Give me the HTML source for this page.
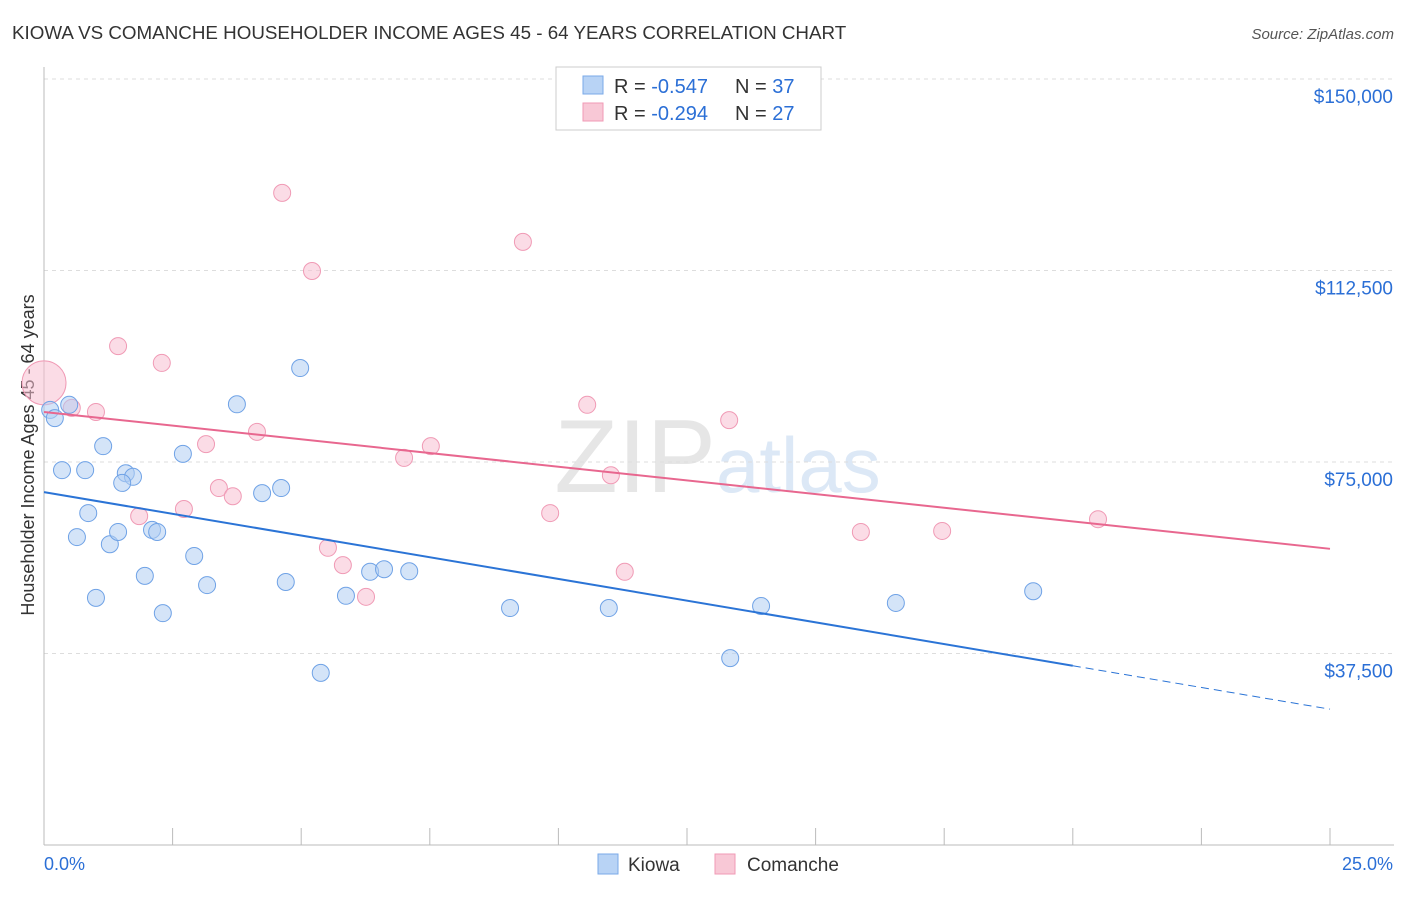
<!DOCTYPE html>
<html><head><meta charset="utf-8"><style>
body{margin:0;background:#fff;font-family:"Liberation Sans",sans-serif}
svg text{font-family:"Liberation Sans",sans-serif}
</style></head><body>
<svg id="chart" width="1406" height="892" xmlns="http://www.w3.org/2000/svg">
<text x="12" y="39" font-size="18.8" fill="#333">KIOWA VS COMANCHE HOUSEHOLDER INCOME AGES 45 - 64 YEARS CORRELATION CHART</text>
<text x="1394" y="39" font-size="15" fill="#555" text-anchor="end" font-style="italic">Source: ZipAtlas.com</text>
<text x="716" y="492" font-size="104" fill="#e6e6e6" text-anchor="end" font-family="Liberation Serif">ZIP</text>
<text x="716" y="492" font-size="78" fill="#dce8f6">atlas</text>
<text transform="translate(34,455) rotate(-90)" font-size="18" fill="#333" text-anchor="middle">Householder Income Ages 45 - 64 years</text>
<g id="grid"></g><g id="marks"></g>
<g>
<rect x="556" y="67" width="265" height="63" fill="#fff" stroke="#ccc"/>
<rect x="583" y="76" width="20" height="18" fill="#b8d3f5" stroke="#7aaae8"/>
<text x="614" y="93" font-size="20" fill="#333">R = <tspan fill="#2b6fd6">-0.547</tspan></text>
<text x="735" y="93" font-size="20" fill="#333">N = <tspan fill="#2b6fd6">37</tspan></text>
<rect x="583" y="103" width="20" height="18" fill="#f8c8d6" stroke="#f09ab5"/>
<text x="614" y="120" font-size="20" fill="#333">R = <tspan fill="#2b6fd6">-0.294</tspan></text>
<text x="735" y="120" font-size="20" fill="#333">N = <tspan fill="#2b6fd6">27</tspan></text>
</g>
<g>
<rect x="598" y="854" width="20" height="20" fill="#b8d3f5" stroke="#7aaae8"/>
<text x="628" y="871" font-size="19" fill="#333">Kiowa</text>
<rect x="715" y="854" width="20" height="20" fill="#f8c8d6" stroke="#f09ab5"/>
<text x="747" y="871" font-size="19" fill="#333">Comanche</text>
</g>
<text x="44" y="870" font-size="18" fill="#2b6fd6">0.0%</text>
<text x="1393" y="870" font-size="18" fill="#2b6fd6" text-anchor="end">25.0%</text>
</svg>
<script>
const yTicks=[150000,112500,75000,37500];
const yTickLabels=["$150,000","$112,500","$75,000","$37,500"];
const kiowaX=[0.12,0.21,0.49,0.35,0.80,1.15,1.59,1.73,1.52,0.86,0.64,1.28,1.44,2.10,2.20,2.70,3.75,4.98,4.24,4.61,2.92,1.96,1.01,2.31,3.17,4.70,5.87,6.34,6.61,7.10,5.38,9.06,10.98,13.34,13.94,16.56,19.23];
const kiowaY=[85.2,83.6,86.2,73.4,73.4,78.1,72.8,72.1,70.9,65.0,60.3,58.9,61.3,61.7,61.3,76.6,86.3,93.4,68.9,69.9,56.6,52.7,48.4,45.4,50.9,51.5,48.8,53.5,54.0,53.6,33.7,46.4,46.4,36.6,46.8,47.4,49.7];
const comX=[0,0.54,1.01,1.44,2.29,3.15,4.14,3.40,3.67,2.72,1.85,4.63,5.21,9.31,5.52,5.81,6.26,7.00,7.52,10.56,11.02,9.84,11.29,13.32,15.88,17.46,20.49];
const comY=[90.5,85.6,84.8,97.7,94.4,78.5,80.9,69.9,68.3,65.8,64.4,127.7,112.4,118.1,58.2,54.8,48.6,75.8,78.1,86.2,72.4,65.0,53.5,83.2,61.3,61.5,63.8];
const kiowaTrend=[69.1,26.6];
const comTrend=[84.8,58.0];
const NS="http://www.w3.org/2000/svg";
const X=v=>44+v/25*1286;
const Y=v=>845-v/150000*766;
function mk(tag,attrs,parent){const e=document.createElementNS(NS,tag);for(const k in attrs)e.setAttribute(k,attrs[k]);parent.appendChild(e);return e;}
const grid=document.getElementById('grid'),marks=document.getElementById('marks');
yTicks.forEach((t,i)=>{
 const l=mk('line',{x1:44,x2:1394,y1:Y(t),y2:Y(t),stroke:'#ddd','stroke-dasharray':'4,4'},grid);
 
 
 const tx=mk('text',{x:1393,y:Y(t)+24,'font-size':19,fill:'#2b6fd6','text-anchor':'end'},grid);
 tx.textContent=yTickLabels[i];
 
 
});
const ax=mk('line',{x1:44,x2:44,y1:67,y2:845,stroke:'#bbb'},grid);


const bx=mk('line',{x1:44,x2:1394,y1:845,y2:845,stroke:'#bbb'},grid);


for(let i=0;i<=10;i++){const t=mk('line',{x1:X(i*2.5),x2:X(i*2.5),y1:828,y2:845,stroke:'#bbb'},grid);
 
 }
function pts(xs,ys,fill,stroke,name){xs.forEach((x,i)=>{
 const r=(name==='comanche-point'&&i===0)?22:8.5;
 const c=mk('circle',{cx:X(x),cy:Y(ys[i]*1000),r:r,fill:fill,'fill-opacity':0.55,stroke:stroke,'stroke-width':1},marks);
 
 });}
pts(comX,comY,'#f8c0d2','#f09ab5','comanche-point');
pts(kiowaX,kiowaY,'#b0cdf3','#6fa2e6','kiowa-point');
const kv=x=>kiowaTrend[0]+(kiowaTrend[1]-kiowaTrend[0])*x/25;
const cv=x=>comTrend[0]+(comTrend[1]-comTrend[0])*x/25;
const k1=mk('line',{x1:X(0),y1:Y(kv(0)*1000),x2:X(20),y2:Y(kv(20)*1000),stroke:'#2b74d6','stroke-width':2},marks);


const k2=mk('line',{x1:X(20),y1:Y(kv(20)*1000),x2:X(25),y2:Y(kv(25)*1000),stroke:'#2b74d6','stroke-width':1,'stroke-dasharray':'8,5'},marks);


const c1=mk('line',{x1:X(0),y1:Y(cv(0)*1000),x2:X(25),y2:Y(cv(25)*1000),stroke:'#e8678f','stroke-width':2},marks);


</script>
</body></html>
